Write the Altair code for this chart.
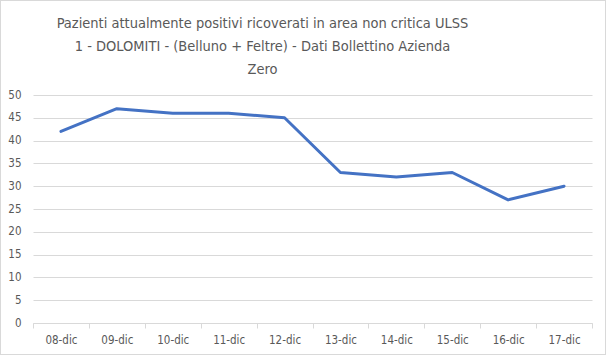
import altair as alt
import pandas as pd

dates = ["08-dic", "09-dic", "10-dic", "11-dic", "12-dic",
         "13-dic", "14-dic", "15-dic", "16-dic", "17-dic"]
values = [42, 47, 46, 46, 45, 33, 32, 33, 27, 30]

df = pd.DataFrame({"data": dates, "pazienti": values})

W, H = 559, 228
PL, PT, PR, PB = 33, 95, 14, 32

title_lines = [
    "Pazienti attualmente positivi ricoverati in area non critica ULSS",
    "1 - DOLOMITI  - (Belluno + Feltre) - Dati Bollettino Azienda",
    "Zero",
]

FONT = "Liberation Sans Narrow, DejaVu Sans Condensed, Liberation Sans, sans-serif"

line = alt.Chart(df).mark_line(color="#4472C4", strokeWidth=3, strokeJoin="round", strokeCap="round").encode(
    x=alt.X("data:O", sort=dates,
            scale=alt.Scale(type="band", paddingInner=0, paddingOuter=0),
            axis=alt.Axis(title=None, labelAngle=0, tickBand="extent", tickSize=5,
                          domainColor="#d9d9d9", tickColor="#d9d9d9", grid=False,
                          labelColor="#595959", labelFontSize=11.5, labelFont=FONT,
                          labelPadding=6)),
    y=alt.Y("pazienti:Q", scale=alt.Scale(domain=[0, 50], nice=False),
            axis=alt.Axis(title=None, values=list(range(0, 51, 5)), ticks=False, domain=False,
                          gridColor="#d9d9d9", labelColor="#595959", labelFontSize=11.5,
                          labelFont=FONT, labelPadding=12)),
)

border = alt.Chart(df).mark_rect(fill=None, stroke="#d9d9d9", strokeWidth=1).encode(
    x=alt.value(-PL + 0.5), x2=alt.value(W + PR - 0.5),
    y=alt.value(-PT + 0.5), y2=alt.value(H + PB - 0.5),
)

chart = alt.layer(line, border).properties(
    width=W, height=H,
    autosize=alt.AutoSizeParams(type="none"),
    padding={"left": PL, "top": PT, "right": PR, "bottom": PB},
    background="white",
    title=alt.TitleParams(text=title_lines, anchor="middle", dx=-50, offset=0,
                          baseline="top", dy=77,
                          fontSize=14.5, font=FONT, fontWeight="normal",
                          color="#595959", lineHeight=23),
).configure_view(stroke=None)

chart.save("out.html", embed_options={"renderer": "svg", "actions": False})
